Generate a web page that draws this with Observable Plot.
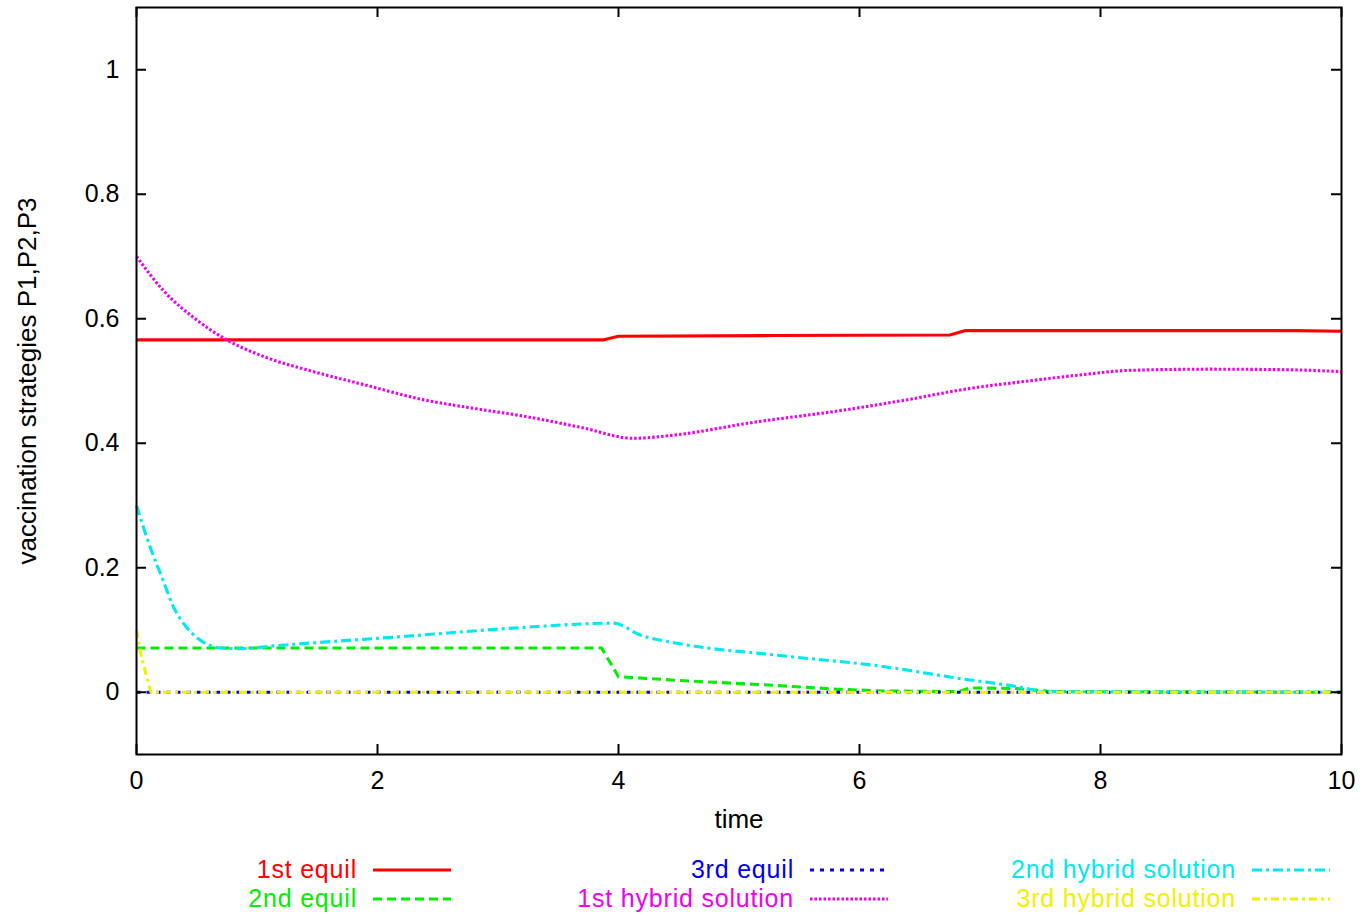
<!DOCTYPE html>
<html>
<head>
<meta charset="utf-8">
<script src="https://cdn.jsdelivr.net/npm/d3@7"></script>
<script src="https://cdn.jsdelivr.net/npm/@observablehq/plot@0.6"></script>
<style>
  html, body { margin: 0; padding: 0; background: #fff; }
  #wrap { position: relative; width: 1365px; height: 916px; font-family: "Liberation Sans", Arial, Helvetica, sans-serif; }
  #legend { position: absolute; left: 11px; top: 855px; display: grid; grid-template-columns: 440px 437px 442px; grid-template-rows: 29px 29px; grid-auto-flow: column; }
  .item { display: flex; justify-content: flex-end; align-items: center; gap: 16px; font-size: 25px; line-height: 29px; letter-spacing: 0.8px; white-space: nowrap; }
  .item svg { display: block; }
</style>
</head>
<body>
<div id="wrap"></div>
<script>
// ---- data ----
const seriesNames = ["1st equil", "2nd equil", "3rd equil", "1st hybrid solution", "2nd hybrid solution", "3rd hybrid solution"];
const xTicks = [0, 2, 4, 6, 8, 10];
const yTicks = [0, 0.2, 0.4, 0.6, 0.8, 1];

const equil1T = [0, 3.87, 4.0, 5.3, 6.75, 6.88, 9.6, 10];
const equil1V = [0.566, 0.566, 0.572, 0.573, 0.574, 0.581, 0.581, 0.580];

const equil2T = [0, 3.86, 4.0, 4.5, 5.3, 5.8, 6.2, 6.82, 6.92, 7.3, 7.6, 10];
const equil2V = [0.071, 0.071, 0.025, 0.019, 0.011, 0.005, 0.002, 0.001, 0.007, 0.006, 0.001, 0];

const equil3T = [0, 10];
const equil3V = [0, 0];

const hybrid1T = [0, 0.22, 0.5, 0.75, 1.06, 1.47, 1.89, 2.38, 2.8, 3.23, 3.7, 4.12, 4.5, 5.1, 5.86, 6.4, 6.88, 7.4, 7.89, 8.23, 8.91, 9.58, 10];
const hybrid1V = [0.70, 0.646, 0.598, 0.566, 0.539, 0.515, 0.494, 0.470, 0.456, 0.443, 0.425, 0.408, 0.414, 0.433, 0.453, 0.470, 0.487, 0.500, 0.511, 0.517, 0.519, 0.518, 0.515];

const hybrid2T = [0, 0.11, 0.22, 0.3, 0.4, 0.5, 0.6, 0.7, 0.85, 1.17, 2.24, 3.2, 3.96, 4.18, 4.51, 5.34, 6.17, 6.87, 7.28, 7.56, 10];
const hybrid2V = [0.30, 0.235, 0.18, 0.14, 0.108, 0.088, 0.076, 0.071, 0.070, 0.075, 0.090, 0.104, 0.111, 0.092, 0.078, 0.059, 0.042, 0.021, 0.010, 0.001, 0];

const hybrid3T = [0, 0.03, 0.07, 0.12, 10];
const hybrid3V = [0.10, 0.067, 0.035, 0, 0];

// ---- styles ----
const styles = [
  {stroke: "#ff0000", dash: null, curve: "linear"},
  {stroke: "#00ee00", dash: "9,5", curve: "linear"},
  {stroke: "#0000ee", dash: "4,6", curve: "linear"},
  {stroke: "#ee00ee", dash: "2.5,2", curve: "monotone-x"},
  {stroke: "#00e8f0", dash: "10,4,3,4", curve: "monotone-x"},
  {stroke: "#f0f000", dash: "8,4,3,4", curve: "linear"}
];
const seriesT = [equil1T, equil2T, equil3T, hybrid1T, hybrid2T, hybrid3T];
const seriesV = [equil1V, equil2V, equil3V, hybrid1V, hybrid2V, hybrid3V];

const series = seriesNames.map((name, i) => seriesT[i].map((t, j) => ({t, v: seriesV[i][j], name})));

const xDom = [0, 10], yDom = [-0.1, 1.1];
const tickLenX = 10 / 120.5; // in x units
const tickLenY = 10 / 622;   // in y units

const chart = Plot.plot({
  width: 1365,
  height: 845,
  marginLeft: 136,
  marginRight: 24,
  marginTop: 7,
  marginBottom: 91,
  style: {fontFamily: '"Liberation Sans", Arial, Helvetica, sans-serif', fontSize: "25px", background: "white"},
  x: {domain: xDom},
  y: {domain: yDom},
  marks: [
    ...series.map((d, i) => Plot.line(d, {x: "t", y: "v", stroke: styles[i].stroke, strokeWidth: 3.1, strokeDasharray: styles[i].dash, strokeLinecap: "butt", strokeLinejoin: "round", curve: styles[i].curve})),
    Plot.ruleX(xTicks, {y1: yDom[0], y2: yDom[0] + tickLenY, stroke: "black", strokeWidth: 2}),
    Plot.ruleX(xTicks, {y1: yDom[1], y2: yDom[1] - tickLenY, stroke: "black", strokeWidth: 2}),
    Plot.ruleY(yTicks, {x1: xDom[0], x2: xDom[0] + tickLenX, stroke: "black", strokeWidth: 2}),
    Plot.ruleY(yTicks, {x1: xDom[1], x2: xDom[1] - tickLenX, stroke: "black", strokeWidth: 2}),
    Plot.frame({stroke: "black", strokeWidth: 2}),
    Plot.axisX({ticks: xTicks, tickSize: 0, tickPadding: 17, tickFormat: d => String(d), label: null, fontSize: 25}),
    Plot.axisY({ticks: yTicks, tickSize: 0, tickPadding: 17, tickFormat: d => String(d), label: null, fontSize: 25}),
    Plot.text(["time"], {frameAnchor: "bottom", dy: 73, fontSize: 26, fill: "black"}),
    Plot.text(["vaccination strategies P1,P2,P3"], {frameAnchor: "left", dx: -109, rotate: -90, textAnchor: "middle", fontSize: 26, fill: "black"})
  ]
});

const wrap = document.getElementById("wrap");
wrap.appendChild(chart);

// legend
const legend = document.createElement("div");
legend.id = "legend";
seriesNames.forEach((name, i) => {
  const item = document.createElement("div");
  item.className = "item";
  const span = document.createElement("span");
  span.textContent = name;
  span.style.color = styles[i].stroke;
  item.appendChild(span);
  const svg = d3.create("svg").attr("width", 78).attr("height", 12);
  svg.append("line").attr("x1", 0).attr("x2", 78).attr("y1", 6).attr("y2", 6)
    .attr("stroke", styles[i].stroke).attr("stroke-width", 3)
    .attr("stroke-dasharray", styles[i].dash);
  item.appendChild(svg.node());
  legend.appendChild(item);
});
wrap.appendChild(legend);
</script>
</body>
</html>
